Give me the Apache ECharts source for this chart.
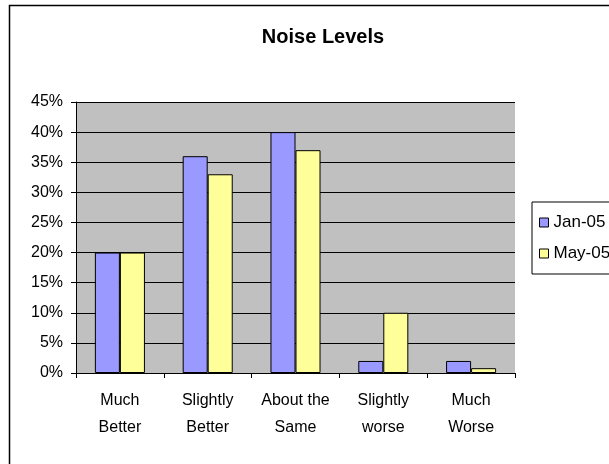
<!DOCTYPE html>
<html>
<head>
<meta charset="utf-8">
<script src="https://cdn.jsdelivr.net/npm/echarts@6/dist/echarts.min.js"></script>
<style>
  html, body { margin: 0; padding: 0; background: #fff; }
  #chart { width: 609px; height: 464px; }
</style>
</head>
<body>
<div id="chart"></div>
<script>
    // data
    var categories = ['Much\nBetter', 'Slightly\nBetter', 'About the\nSame', 'Slightly\nworse', 'Much\nWorse'];
    var seriesNames = ['Jan-05', 'May-05'];
    var jan05 = [20, 36, 40, 2, 2];
    var may05 = [20, 33, 37, 10, 0.8];
    var yTicks = [0, 45, 5]; // min, max, step (%)

    var font = '"Liberation Sans", Arial, sans-serif';
    var myChart = echarts.init(document.getElementById('chart'));

    var option = {
        backgroundColor: '#fff',
        animation: false,
        textStyle: { fontFamily: font },
        title: {
            text: 'Noise Levels',
            left: 318,
            textAlign: 'center',
            top: 22,
            textStyle: { fontSize: 20, fontWeight: 'bold', color: '#000', fontFamily: font }
        },
        graphic: [{
            type: 'rect',
            shape: { x: 9.5, y: 5.5, width: 700, height: 600 },
            style: { fill: 'none', stroke: '#000', lineWidth: 1.5 },
            z: -1
        }],
        legend: {
            orient: 'vertical',
            left: 532,
            top: 202,
            data: seriesNames,
            backgroundColor: '#fff',
            borderColor: '#000',
            borderWidth: 1,
            borderRadius: 0,
            padding: [12, 60, 12, 7],
            itemGap: 14,
            itemWidth: 9,
            itemHeight: 9,
            icon: 'rect',
            itemStyle: { borderColor: '#000', borderWidth: 1 },
            textStyle: { fontSize: 17, color: '#000', padding: [0, 0, 0, 0], fontFamily: font }
        },
        grid: {
            left: 76,
            top: 102,
            right: 94,
            bottom: 91,
            show: true,
            backgroundColor: '#c0c0c0',
            borderWidth: 0
        },
        xAxis: {
            type: 'category',
            data: categories,
            axisLine: { lineStyle: { color: '#000', width: 1 } },
            axisTick: { show: true, length: 5, inside: false, lineStyle: { color: '#000' } },
            axisLabel: {
                interval: 0,
                hideOverlap: false,
                color: '#000',
                fontSize: 16,
                lineHeight: 27,
                margin: 14,
                fontFamily: font
            }
        },
        yAxis: {
            type: 'value',
            min: yTicks[0],
            max: yTicks[1],
            interval: yTicks[2],
            axisLine: { show: true, lineStyle: { color: '#000', width: 1 } },
            axisTick: { show: true, length: 5, inside: false, lineStyle: { color: '#000' } },
            splitLine: { show: true, lineStyle: { color: '#000', width: 1 } },
            axisLabel: {
                color: '#000',
                fontSize: 16,
                margin: 13,
                fontFamily: font,
                formatter: function (v) { return v + '%'; }
            }
        },
        series: [{
            name: seriesNames[0],
            type: 'bar',
            data: jan05,
            barGap: '0%',
            barCategoryGap: '43%',
            itemStyle: { color: '#9999ff', borderColor: '#000', borderWidth: 1 }
        }, {
            name: seriesNames[1],
            type: 'bar',
            data: may05,
            itemStyle: { color: '#ffff99', borderColor: '#000', borderWidth: 1 }
        }]
    };
    myChart.setOption(option);
</script>
</body>
</html>
